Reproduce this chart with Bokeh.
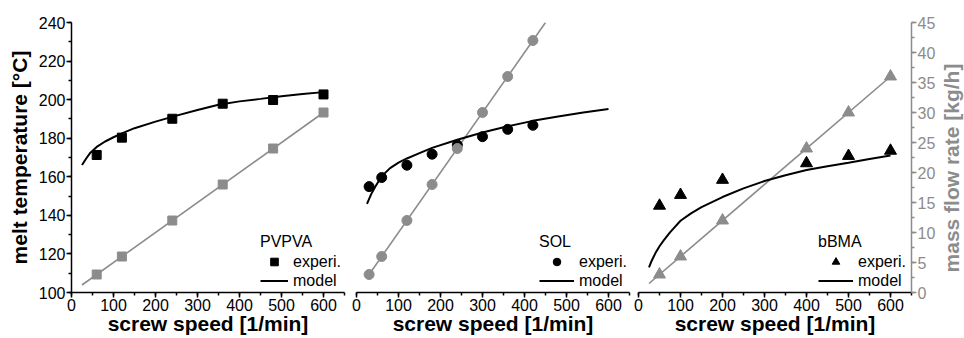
import math
from bokeh.plotting import figure
from bokeh.layouts import row
from bokeh.models import Range1d, LinearAxis, Legend, LegendItem, SingleIntervalTicker
from bokeh.core.properties import value
from bokeh.embed import file_html
from bokeh.resources import INLINE

FONT = "Liberation Sans"
GRAY = "#8c8c8c"

# ---------------- data ----------------
# PVPVA
pv_speed = [60, 120, 240, 360, 480, 600]
pv_temp = [171.3, 180.3, 190.1, 197.9, 199.8, 202.7]
pv_flow = [3, 6, 12, 18, 24, 30]
pv_line_speed = [25, 600]
pv_line_flow = [1.25, 30]
pv_model_speed = [25, 35, 45, 60, 80, 100, 120, 150, 200, 250, 300, 350, 400, 450, 500, 550, 600]
pv_model_temp = [166.1, 169.5, 172.5, 175.5, 178.3, 180.5, 182.5, 185.2, 188.6, 191.7, 194.6,
                 197.4, 199.1, 200.4, 201.8, 202.9, 203.9]

# SOL
sol_speed = [30, 60, 120, 180, 240, 300, 360, 420]
sol_temp = [154.9, 159.6, 166.0, 171.7, 176.5, 180.8, 184.6, 186.7]
sol_flow = [3, 6, 12, 18, 24, 30, 36, 42]
sol_line_speed = [25, 450]
sol_line_flow = [2.5, 45]
sol_model_speed = [25, 35, 45, 60, 80, 100, 120, 150, 180, 240, 300, 360, 420, 480, 540, 600]
sol_model_temp = [146.0, 151.0, 155.0, 160.3, 164.5, 167.3, 169.5, 172.3, 175.0, 179.2, 183.0,
                  186.2, 189.0, 191.3, 193.3, 195.1]

# bBMA
bb_speed = [50, 100, 200, 400, 500, 600]
bb_temp = [145.0, 150.6, 158.4, 167.0, 170.8, 173.5]
bb_flow = [3, 6, 12, 24, 30, 36]
bb_line_speed = [25, 600]
bb_line_flow = [1.5, 36]
bb_model_speed = [25, 30, 40, 50, 60, 75, 100, 125, 150, 200, 250, 300, 350, 400, 450, 500, 550, 600]
bb_model_temp = [113.0, 115.8, 120.3, 124.0, 127.0, 131.2, 137.2, 141.0, 144.3, 149.5, 154.0,
                 157.8, 160.8, 163.5, 165.5, 167.3, 169.2, 171.0]

flow_title = "mass flow rate [kg/h]"

X_RANGE = (0, 650)
T_RANGE = (100, 240)
F_RANGE = (0, 45)

FRAME_W = 273
FRAME_H = 270
TOP_B = 22
BOTTOM_B = 46
TOTAL_H = TOP_B + FRAME_H + BOTTOM_B


def style_axis(ax, color="black"):
    ax.axis_line_color = color
    ax.axis_line_width = 1.5
    ax.major_tick_line_color = color
    ax.major_tick_line_width = 1.5
    ax.minor_tick_line_color = color
    ax.minor_tick_line_width = 1.5
    ax.major_tick_in = 0
    ax.major_tick_out = 5
    ax.minor_tick_in = 0
    ax.minor_tick_out = 3
    ax.major_label_text_font = FONT
    ax.major_label_text_font_size = "16px"
    ax.major_label_text_color = color
    ax.major_label_standoff = 1
    ax.axis_label_text_font = FONT
    ax.axis_label_text_font_size = "21px"
    ax.axis_label_text_font_style = "bold"
    ax.axis_label_text_color = color


def make_panel(name, speed, temp, flow, line_speed, line_flow, model_speed, model_temp,
               marker, msize, left_b, right_b, show_left, show_right, legend_x, glyph_w):
    p = figure(frame_width=FRAME_W, frame_height=FRAME_H,
               x_range=Range1d(*X_RANGE), y_range=Range1d(*T_RANGE),
               min_border_left=left_b, min_border_right=right_b,
               min_border_top=TOP_B, min_border_bottom=BOTTOM_B,
               toolbar_location=None, output_backend="svg",
               y_axis_location="left" if show_left else None)
    p.extra_y_ranges = {"flow": Range1d(*F_RANGE)}
    p.outline_line_color = None
    p.xgrid.grid_line_color = None
    p.ygrid.grid_line_color = None
    p.background_fill_color = "white"
    p.border_fill_color = "white"

    xa = p.xaxis[0]
    xa.ticker = SingleIntervalTicker(interval=100, num_minor_ticks=2)
    xa.axis_label = "screw speed [1/min]"
    style_axis(xa)
    xa.axis_label_standoff = -2

    if show_left:
        ya = p.yaxis[0]
        ya.ticker = SingleIntervalTicker(interval=20, num_minor_ticks=2)
        ya.axis_label = "melt temperature [°C]"
        style_axis(ya)
        ya.axis_label_standoff = 5

    if show_right:
        ra = LinearAxis(y_range_name="flow")
        ra.ticker = SingleIntervalTicker(interval=5, num_minor_ticks=2)
        style_axis(ra, GRAY)
        p.add_layout(ra, "right")

    p.line(line_speed, line_flow, line_color=GRAY, line_width=1.6, y_range_name="flow")
    r_mod = p.line(model_speed, model_temp, line_color="black", line_width=2)
    r_exp = p.scatter(speed, temp, marker=marker, size=msize, color="black")
    p.scatter(speed, flow, marker=marker, size=msize, color=GRAY, y_range_name="flow")

    legend = Legend(items=[LegendItem(label="experi.", renderers=[r_exp]),
                           LegendItem(label="model", renderers=[r_mod])],
                    location=(legend_x, 2), title=name)
    legend.title_text_font = FONT
    legend.title_text_font_size = "16px"
    legend.title_text_font_style = "normal"
    legend.title_text_color = "black"
    legend.title_standoff = 1
    legend.label_text_font = FONT
    legend.label_text_font_size = "16px"
    legend.label_text_color = "black"
    legend.glyph_width = glyph_w
    legend.glyph_height = 19
    legend.label_height = 19
    legend.label_standoff = 5
    legend.spacing = 0
    legend.padding = 0
    legend.margin = 0
    legend.background_fill_alpha = 0
    legend.border_line_color = None
    p.add_layout(legend)
    return p


p1 = make_panel("PVPVA", pv_speed, pv_temp, pv_flow, pv_line_speed, pv_line_flow,
                pv_model_speed, pv_model_temp, "square", 9, 71, 6, True, False, 189, 28)
p2 = make_panel("SOL", sol_speed, sol_temp, sol_flow, sol_line_speed, sol_line_flow,
                sol_model_speed, sol_model_temp, "circle", 10, 6, 4, False, False, 183, 35)
p3 = make_panel("bBMA", bb_speed, bb_temp, bb_flow, bb_line_speed, bb_line_flow,
                bb_model_speed, bb_model_temp, "triangle", 12, 5, 25, False, True, 180, 35)

# narrow strip holding the right-hand axis title, reading bottom-to-top
pt = figure(frame_width=28, frame_height=TOTAL_H, min_border=0,
            x_range=Range1d(0, 1), y_range=Range1d(0, TOTAL_H),
            x_axis_location=None, y_axis_location=None,
            toolbar_location=None, output_backend="svg")
pt.outline_line_color = None
pt.xgrid.grid_line_color = None
pt.ygrid.grid_line_color = None
pt.border_fill_color = "white"
pt.text(x=[0.45], y=[TOTAL_H - 145.5], text=[flow_title], angle=math.pi / 2,
        text_align="center", text_baseline="middle",
        text_font=value(FONT), text_font_size="21px", text_font_style="bold",
        text_color=GRAY)

layout = row(p1, p2, p3, pt, spacing=0)

open("out.html", "w").write(file_html(layout, INLINE))
